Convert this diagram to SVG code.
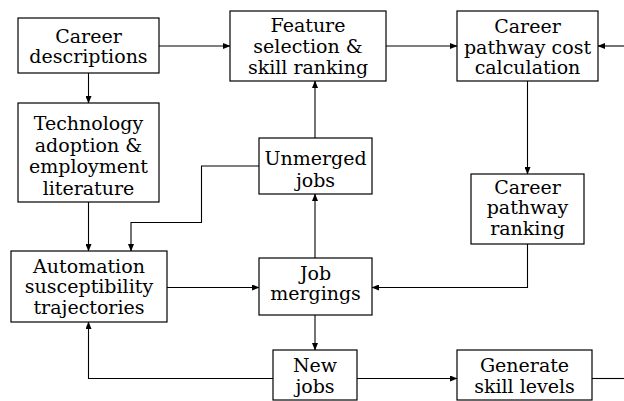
<svg xmlns="http://www.w3.org/2000/svg" width="624" height="401" viewBox="0 0 624 401">
<style>
.box{fill:#fff;stroke:#000;stroke-width:1.2}
.t{font-family:"DejaVu Serif","Liberation Serif",serif;font-size:19px;fill:#000;text-anchor:middle}
.c{fill:none;stroke:#000;stroke-width:1.1}
</style>
<defs>
<marker id="ah" markerWidth="8" markerHeight="6" refX="7" refY="3" orient="auto" markerUnits="userSpaceOnUse">
<path d="M0,0 L7.5,3 L0,6 z" fill="#000"/>
</marker>
</defs>
<rect width="624" height="401" fill="#fff"/>
<g id="connectors">
<path class="c" d="M159,46 H230" marker-end="url(#ah)"/>
<path class="c" d="M386,46 H457" marker-end="url(#ah)"/>
<path class="c" d="M624,46 H598" marker-end="url(#ah)"/>
<path class="c" d="M88.5,73 V103" marker-end="url(#ah)"/>
<path class="c" d="M88.5,202 V251" marker-end="url(#ah)"/>
<path class="c" d="M259,166 H201.5 V222.5 H131 V251" marker-end="url(#ah)"/>
<path class="c" d="M315,138 V81" marker-end="url(#ah)"/>
<path class="c" d="M315,258 V194" marker-end="url(#ah)"/>
<path class="c" d="M527.5,81 V174" marker-end="url(#ah)"/>
<path class="c" d="M527.5,244 V287.5 H372" marker-end="url(#ah)"/>
<path class="c" d="M167,287.5 H259" marker-end="url(#ah)"/>
<path class="c" d="M315,315 V350" marker-end="url(#ah)"/>
<path class="c" d="M273,378.5 H88.5 V322" marker-end="url(#ah)"/>
<path class="c" d="M357,378.5 H457" marker-end="url(#ah)"/>
<path class="c" d="M592,378.5 H624"/>
</g>
<g id="career-descriptions">
<rect class="box" x="18" y="18" width="141" height="55"/>
<text class="t" x="88.5" y="42.5">Career</text>
<text class="t" x="88.5" y="63">descriptions</text>
</g>
<g id="technology">
<rect class="box" x="18" y="103" width="141" height="99"/>
<text class="t" x="88.5" y="130">Technology</text>
<text class="t" x="88.5" y="151.5">adoption &amp;</text>
<text class="t" x="88.5" y="173">employment</text>
<text class="t" x="88.5" y="194.5">literature</text>
</g>
<g id="feature-selection">
<rect class="box" x="230" y="11" width="156" height="70"/>
<text class="t" x="308" y="31.5">Feature</text>
<text class="t" x="308" y="53">selection &amp;</text>
<text class="t" x="308" y="73.5">skill ranking</text>
</g>
<g id="career-pathway-cost">
<rect class="box" x="457" y="11" width="141" height="70"/>
<text class="t" x="527.5" y="33">Career</text>
<text class="t" x="527.5" y="53.5">pathway cost</text>
<text class="t" x="527.5" y="74">calculation</text>
</g>
<g id="unmerged-jobs">
<rect class="box" x="259" y="138" width="113" height="56"/>
<text class="t" x="315.5" y="165">Unmerged</text>
<text class="t" x="315.5" y="186.5">jobs</text>
</g>
<g id="career-pathway-ranking">
<rect class="box" x="471" y="174" width="113" height="70"/>
<text class="t" x="527.5" y="193.5">Career</text>
<text class="t" x="527.5" y="214">pathway</text>
<text class="t" x="527.5" y="235">ranking</text>
</g>
<g id="automation">
<rect class="box" x="11" y="251" width="156" height="71"/>
<text class="t" x="89" y="272.5">Automation</text>
<text class="t" x="89" y="292.5">susceptibility</text>
<text class="t" x="89" y="313.5">trajectories</text>
</g>
<g id="job-mergings">
<rect class="box" x="259" y="258" width="113" height="57"/>
<text class="t" x="315.5" y="279.5">Job</text>
<text class="t" x="315.5" y="299.5">mergings</text>
</g>
<g id="new-jobs">
<rect class="box" x="273" y="350" width="84" height="50"/>
<text class="t" x="315" y="372">New</text>
<text class="t" x="315" y="392.5">jobs</text>
</g>
<g id="generate-skill-levels">
<rect class="box" x="457" y="350" width="135" height="50"/>
<text class="t" x="524.5" y="372">Generate</text>
<text class="t" x="524.5" y="392.5">skill levels</text>
</g>
</svg>
